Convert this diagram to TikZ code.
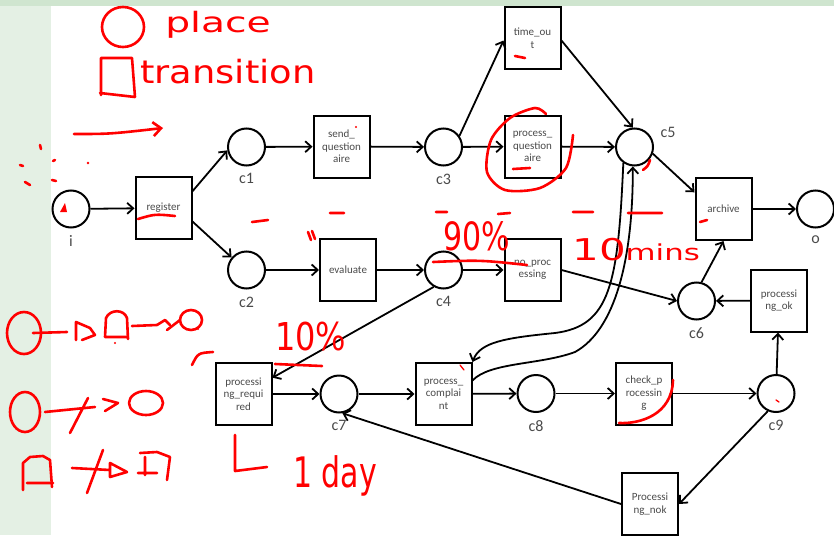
\documentclass[tikz,border=0pt]{standalone}
\usepackage{fontspec}
\setmainfont{Carlito}
\newfontfamily\handfont{DejaVu Sans}
\usetikzlibrary{arrows.meta,positioning}
\definecolor{txtgray}{HTML}{4A4A4A}
\definecolor{bgleft}{HTML}{E4F0E4}
\definecolor{bgtop}{HTML}{CFE5CF}
\definecolor{ink}{HTML}{FF0000}
\tikzset{
  placenode/.style={circle, draw, line width=2pt, minimum size=37pt, inner sep=0pt},
  transnode/.style={rectangle, draw, line width=2pt, minimum width=56pt, minimum height=62pt,
    inner sep=0pt, align=center, text=txtgray, font=\fontsize{11}{12.5}\selectfont},
  lbl/.style={text=txtgray, font=\fontsize{16}{16}\selectfont, inner sep=0pt, label distance=7pt},
  flow/.style={line width=1.8pt, -{Straight Barb[length=6pt,width=11pt]}},
  pen/.style={draw=ink, line width=2.6pt, line cap=round, line join=round},
  note/.style={text=ink, inner sep=0pt, anchor=base west}
}
\begin{document}
\begin{tikzpicture}[x=1pt, y=-1pt]
  \fill[bgleft] (0,0) rectangle (51,535);
  \fill[bgtop] (0,0) rectangle (834,6);
  \useasboundingbox (0,0) rectangle (834,535);

  \node[placenode, label={[lbl]below:i}] (i) at (71,209) {};
  \node[transnode] (register) at (163.5,208) {register};
  \node[placenode, label={[lbl]below:c1}] (c1) at (246.5,147) {};
  \node[transnode] (sendq) at (341.5,146.5) {send\_\\question\\aire};
  \node[placenode, label={[lbl]below:c3}] (c3) at (443.5,147) {};
  \node[transnode] (timeout) at (532.5,38) {time\_ou\\t};
  \node[transnode] (procq) at (532.5,146.5) {process\_\\question\\aire};
  \node[placenode, label={[lbl,label distance=8pt]20:c5}] (c5) at (634.5,147) {};
  \node[transnode] (archive) at (723.5,209) {archive};
  \node[placenode, label={[lbl]below:o}] (o) at (815.5,209) {};
  \node[placenode, label={[lbl]below:c2}] (c2) at (246.5,270) {};
  \node[transnode] (evaluate) at (348,270) {evaluate};
  \node[placenode, label={[lbl]below:c4}] (c4) at (443.5,270) {};
  \node[transnode] (noproc) at (532.5,270) {no\_proc\\essing};
  \node[placenode, label={[lbl]below:c6}] (c6) at (696.5,301) {};
  \node[transnode] (procok) at (779,300.5) {processi\\ng\_ok};
  \node[transnode] (procreq) at (243.5,394) {processi\\ng\_requi\\red};
  \node[placenode, label={[lbl]below:c7}] (c7) at (339,394) {};
  \node[transnode] (pcompl) at (443.5,394) {process\_\\complai\\nt};
  \node[placenode, label={[lbl]below:c8}] (c8) at (536,393.5) {};
  \node[transnode] (checkp) at (644,393.5) {check\_p\\rocessin\\g};
  \node[placenode, label={[lbl]below:c9}] (c9) at (776,393.5) {};
  \node[transnode] (procnok) at (650,504) {Processi\\ng\_nok};

  \draw[flow] (i) -- (register);
  \draw[flow] (register.30) -- (c1.190);
  \draw[flow] (register.-25) -- (c2.140);
  \draw[flow] (c1) -- (sendq);
  \draw[flow] (sendq) -- (c3);
  \draw[flow] (c3.35) -- (timeout.-175);
  \draw[flow] (c3) -- (procq);
  \draw[flow] (timeout.-5) -- (c5.95);
  \draw[flow] (procq) -- (c5);
  \draw[flow] (c5.-20) -- (archive.150);
  \draw[flow] (archive) -- (o);
  \draw[flow] (c2) -- (evaluate);
  \draw[flow] (evaluate) -- (c4);
  \draw[flow] (c4) -- (noproc);
  \draw[flow] (c4.-120) -- (procreq);
  \draw[flow] (noproc.east) -- (c6.west);
  \draw[flow] (c6.75) -- (archive.south);
  \draw[flow] (procok) -- (c6);
  \draw[flow] (procreq) -- (c7);
  \draw[flow] (c7) -- (pcompl);
  \draw[flow] (pcompl) -- (c8);
  \draw[flow] (c8) -- (checkp);
  \draw[flow] (checkp) -- (c9);
  \draw[flow] (c9) -- (procok);
  \draw[flow] (c9.-115) -- (procnok.east);
  \draw[flow] (procnok.west) -- (c7.-80);
  \draw[flow] (c5.-125) .. controls (618,285) and (610,326) .. (555,333)
    .. controls (505,338) and (480,342) .. (pcompl.north east);
  \draw[flow] (pcompl.25) .. controls (490,362) and (540,365) .. (575,352)
    .. controls (615,330) and (633,260) .. (c5.-95);

  % red notes
  \draw[pen] (123,27) circle[x radius=21, y radius=20];
  \node[note, font=\handfont\fontsize{28}{28}\selectfont, xscale=1.4] (placetxt) at (165,33) {place};
  \draw[pen] (101,95) -- (101,58) -- (132,58) -- (135,97) (100,93) -- (135,97);
  \node[note, font=\handfont\fontsize{32}{32}\selectfont, xscale=1.15] (transtxt) at (140,83) {transition};
  \draw[pen, -{Straight Barb[length=8pt,width=14pt]}] (74,134) .. controls (110,134) .. (163,128);
  \draw[pen] (40,145) -- (41,149) (20,165) -- (23,166) (53,161) -- (55,160)
    (25,182) -- (30,185) (52,180) -- (56,181);
  \fill[ink] (88,163) circle (1.3) (60,212) -- (65,203) -- (67,212) -- cycle;
  \draw[pen] (138,219) .. controls (155,214) .. (175,216);
  \draw[pen] (252,222) -- (268,220) (330,213) -- (344,213) (308,232) -- (311,240) (312,231) -- (315,239)
    (436,212) -- (447,212) (498,214) -- (510,213) (573,212) -- (593,212) (628,213) -- (662,213)
    (700,222) -- (707,220) (515,56) -- (525,58) (513,169) -- (530,168);
  \fill[ink] (356,127) circle (1.2);
  \node[note, font=\handfont\fontsize{30}{30}\selectfont, yscale=1.3] (ninety) at (443,250) {90\%};
  \draw[pen] (433,262) .. controls (480,260) .. (527,265);
  \node[note, font=\handfont\fontsize{30}{30}\selectfont, xscale=1.4] (tenmin) at (572,260)
    {10{\fontsize{22}{22}\selectfont mins}};
  \draw[pen] plot[smooth] coordinates {(573,135) (566,168) (540,188) (505,190) (487,172) (491,140) (510,118) (535,108) (546,114)};
  \draw[pen] (650,160) .. controls (648,166) .. (643,170);
  \node[note, font=\handfont\fontsize{32}{32}\selectfont, yscale=1.2] (tenpct) at (275,350) {10\%};
  \draw[pen] (275,364) -- (322,366);
  \draw[pen] (192,365) .. controls (198,353) .. (213,352);
  \draw[pen] (235,435) -- (235,471) -- (267,467);
  \node[note, font=\handfont\fontsize{30}{30}\selectfont, yscale=1.4] (oneday) at (293,487) {1 day};
  \draw[pen] (673,380) .. controls (672,415) and (640,424) .. (619,423);
  \draw[pen, line width=1.3pt] (776,400) -- (779,402) (460,365) -- (464,370);

  % legend
  \draw[pen] (24,333) circle[x radius=17, y radius=21];
  \draw[pen] (33,333) -- (67,332) (76,340) -- (76,322) -- (90,328) -- (95,335) -- (82,340)
    (105,337) -- (106,318) .. controls (110,309) and (124,309) .. (127,318) -- (128,339) (105,337) -- (128,337)
    (132,326) -- (157,325) -- (165,320) -- (170,325) (167,330) -- (180,320);
  \draw[pen] (191,320) circle[x radius=11, y radius=10];
  \fill[ink] (115,343) circle (1.2) (198,329) circle (1.2);
  \draw[pen] (25,412) circle[x radius=15, y radius=20];
  \draw[pen] (45,412) -- (95,407) (70,433) -- (88,398) (103,399) -- (118,403) -- (105,411);
  \draw[pen] (146,403) circle[x radius=17, y radius=12];
  \draw[pen] (23,490) -- (23,463) -- (30,457) -- (43,456) -- (50,460) -- (52,487) (27,483) -- (53,483)
    (72,468) -- (110,470) (87,493) -- (103,450) (110,463) -- (127,472) -- (110,477) -- cycle
    (140,453) -- (157,452) -- (170,457) -- (167,480) (138,473) -- (157,473) (145,457) -- (145,475);
\end{tikzpicture}
\end{document}
